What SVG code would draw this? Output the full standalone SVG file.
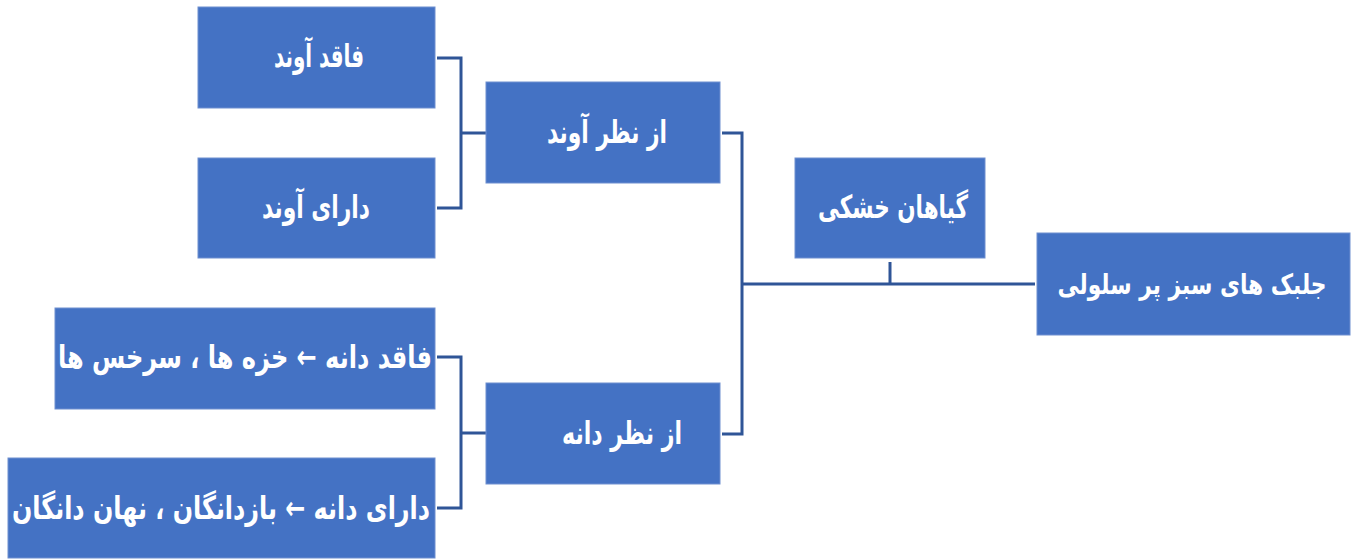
<svg xmlns="http://www.w3.org/2000/svg" width="1359" height="560" viewBox="0 0 1359 560">
<style>
.box{fill:#4472C4;stroke:#6E8FD0;stroke-width:1}
.t{fill:#FFFFFF;font-family:"DejaVu Sans",sans-serif;font-weight:bold;font-size:32px;direction:rtl;text-anchor:middle}
.c{fill:none;stroke:#2F5597;stroke-width:3}
</style>
<rect width="1359" height="560" fill="#FFFFFF"/>
<g id="connectors">
<path class="c" d="M1035 284 H742 M722 133 H742 V434 H722"/>
<path class="c" d="M890 262 V284"/>
<path class="c" d="M437 58 H461 V208 H437 M461 133 H486"/>
<path class="c" d="M437 357 H461 V508 H437 M461 433 H486"/>
</g>
<g id="n-root"><rect class="box" x="1037" y="233" width="313" height="102"/><text class="t" x="1192" y="294" style="font-size:28px" textLength="269" lengthAdjust="spacingAndGlyphs">جلبک های سبز پر سلولی</text></g>
<g id="n-land"><rect class="box" x="795" y="158" width="190" height="100"/><text class="t" x="893" y="218" textLength="150" lengthAdjust="spacingAndGlyphs">گیاهان خشکی</text></g>
<g id="n-vasc"><rect class="box" x="486" y="82" width="234" height="101"/><text class="t" x="607" y="143" textLength="120" lengthAdjust="spacingAndGlyphs">از نظر آوند</text></g>
<g id="n-seed"><rect class="box" x="486" y="383" width="234" height="101"/><text class="t" x="622" y="444" textLength="120" lengthAdjust="spacingAndGlyphs">از نظر دانه</text></g>
<g id="n-novasc"><rect class="box" x="198" y="7" width="237" height="101"/><text class="t" x="319" y="67" textLength="90" lengthAdjust="spacingAndGlyphs">فاقد آوند</text></g>
<g id="n-hasvasc"><rect class="box" x="198" y="158" width="237" height="100"/><text class="t" x="316" y="218" textLength="108" lengthAdjust="spacingAndGlyphs">دارای آوند</text></g>
<g id="n-noseed"><rect class="box" x="55" y="308" width="380" height="101"/><text class="t" x="245" y="368" textLength="374" lengthAdjust="spacingAndGlyphs">فاقد دانه ←  خزه ها ، سرخس ها</text></g>
<g id="n-hasseed"><rect class="box" x="8" y="458" width="427" height="100"/><text class="t" x="221" y="519" textLength="418" lengthAdjust="spacingAndGlyphs">دارای دانه ← بازدانگان ،  نهان دانگان</text></g>
</svg>
